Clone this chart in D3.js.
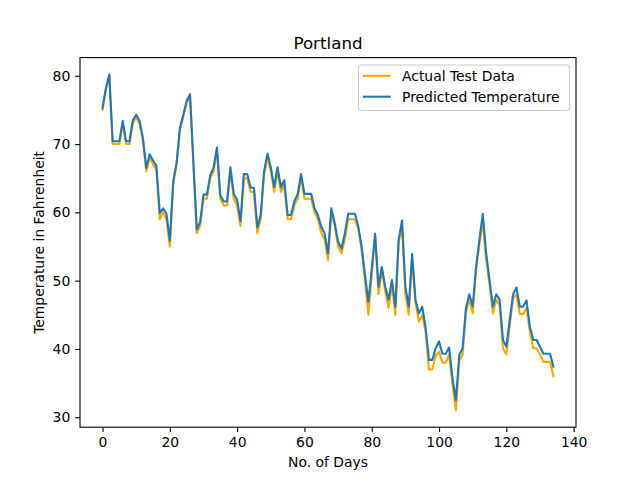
<!DOCTYPE html>
<html><head><meta charset="utf-8">
<script src="https://cdn.jsdelivr.net/npm/d3@7"></script>
<style>body{margin:0;background:#fff}svg{display:block;font-family:"DejaVu Sans",sans-serif}</style>
</head><body>
<script>
const title = "Portland";
const xLabel = "No. of Days";
const yLabel = "Temperature in Fahrenheit";
const seriesNames = ["Actual Test Data", "Predicted Temperature"];
const xTicks = [0, 20, 40, 60, 80, 100, 120, 140];
const yTicks = [30, 40, 50, 60, 70, 80];
const actual = [75,78,80,70,70,70,73,70,70,73,74,73,70.5,66,68,67,66.3,59,60,59,55,64,67,72,74,76,77,67,57,58,62,62,65,66,69,62,61,61,66,62,61,58,65,65,63,63,57,59,65.5,68,66,63,66,63,64,59,59,61,62,65,62,62,62,60,59,57,56,53,60,58,55,54,56,59,59,59,57.5,54.5,50,45,51,56.5,48,51.5,48.5,46,49.5,45,55.5,58,48,45,53,46.8,44,45,42.5,37,37,39,39.6,38,38,39.2,34.7,31,38.2,39.2,45.4,47.2,45.2,51.5,55.4,58.6,53,49.5,45.2,47.2,46.4,40.1,39.2,43.5,47.4,48,45.1,45.1,46.1,42.5,40.1,40.1,39.2,38.1,38.1,38.1,36];
const predicted = [75.3,78.2,80.2,70.4,70.4,70.4,73.4,70.4,70.4,73.5,74.3,73.4,70.9,66.5,68.5,67.6,66.8,59.9,60.6,59.8,55.8,64.6,67.2,72.4,74.3,76.3,77.3,67.3,57.5,58.6,62.6,62.6,65.4,66.6,69.5,62.5,61.6,61.6,66.6,62.7,61.8,58.7,65.6,65.6,63.6,63.6,57.8,59.6,66,68.6,66.6,63.7,66.6,63.7,64.7,59.6,59.6,61.6,62.7,65.6,62.7,62.7,62.7,60.6,59.6,57.9,56.9,54,60.6,58.4,55.7,54.7,56.9,59.8,59.8,59.8,57.9,55,50.8,46.9,51.6,56.9,49.1,52,49.1,47.2,50.1,46.2,56,58.8,49.1,46.2,53.9,47.2,45.2,46.2,43.2,38.4,38.4,40.1,41.1,39.3,39.3,40.2,35.7,32.5,39.1,40.1,46,48,46.2,52,56,59.8,54,50.1,46.2,48,47.2,41.3,40.3,44.2,48,49,46.2,46.2,47.1,43.2,41.3,41.3,40.3,39.3,39.3,39.3,37.4];
const colors = ["#ffa500", "#1f77b4"];

const W = 640, H = 480;
const m = {l: 80, r: 576, t: 57.6, b: 427.2};
const svg = d3.select("body").append("svg").attr("width", W).attr("height", H);

const n = actual.length;
const xmin = 0, xmax = n - 1, xpad = (xmax - xmin) * 0.05;
const all = actual.concat(predicted);
const ymin = d3.min(all), ymax = d3.max(all), ypad = (ymax - ymin) * 0.05;
const x = d3.scaleLinear().domain([xmin - xpad, xmax + xpad]).range([m.l, m.r]);
const y = d3.scaleLinear().domain([ymin - ypad, ymax + ypad]).range([m.b, m.t]);

const line = d3.line().x((d, i) => x(i)).y(d => y(d));
[actual, predicted].forEach((s, k) => {
  svg.append("path").datum(s).attr("d", line).attr("fill", "none")
    .attr("stroke", colors[k]).attr("stroke-width", 2.08)
    .attr("stroke-linejoin", "round").attr("stroke-linecap", "square");
});

const fs = "13.9px";
const xAxis = svg.append("g").attr("transform", `translate(0,${m.b})`)
  .call(d3.axisBottom(x).tickValues(xTicks).tickSize(4.86).tickPadding(4.86).tickFormat(d3.format("d")));
const yAxis = svg.append("g").attr("transform", `translate(${m.l},0)`)
  .call(d3.axisLeft(y).tickValues(yTicks).tickSize(4.86).tickPadding(4.86).tickFormat(d3.format("d")));
[xAxis, yAxis].forEach(g => {
  g.select(".domain").remove();
  g.selectAll(".tick line").attr("stroke", "#000").attr("stroke-width", 1.1);
  g.selectAll(".tick text").attr("fill", "#000").style("font-size", fs).style("font-family", "DejaVu Sans");
});

svg.append("rect").attr("x", m.l).attr("y", m.t).attr("width", m.r - m.l).attr("height", m.b - m.t)
  .attr("fill", "none").attr("stroke", "#000").attr("stroke-width", 1.1);

svg.append("text").attr("x", (m.l + m.r) / 2).attr("y", 49.3).attr("text-anchor", "middle")
  .style("font-size", "16.7px").text(title);
svg.append("text").attr("x", (m.l + m.r) / 2).attr("y", 467).attr("text-anchor", "middle")
  .style("font-size", fs).text(xLabel);
svg.append("text").attr("transform", `translate(44,${(m.t + m.b) / 2}) rotate(-90)`).attr("text-anchor", "middle")
  .style("font-size", fs).text(yLabel);

const lg = svg.append("g");
lg.append("rect").attr("x", 358.5).attr("y", 65).attr("width", 211).attr("height", 45.5).attr("rx", 2.8)
  .attr("fill", "#fff").attr("fill-opacity", 0.8).attr("stroke", "#cccccc").attr("stroke-width", 1.1);
seriesNames.forEach((name, k) => {
  const yy = 75.8 + k * 20.9;
  lg.append("line").attr("x1", 363).attr("x2", 390.8).attr("y1", yy).attr("y2", yy)
    .attr("stroke", colors[k]).attr("stroke-width", 2.08);
  lg.append("text").attr("x", 402).attr("y", yy + 5).style("font-size", fs).text(name);
});
</script>
</body></html>
